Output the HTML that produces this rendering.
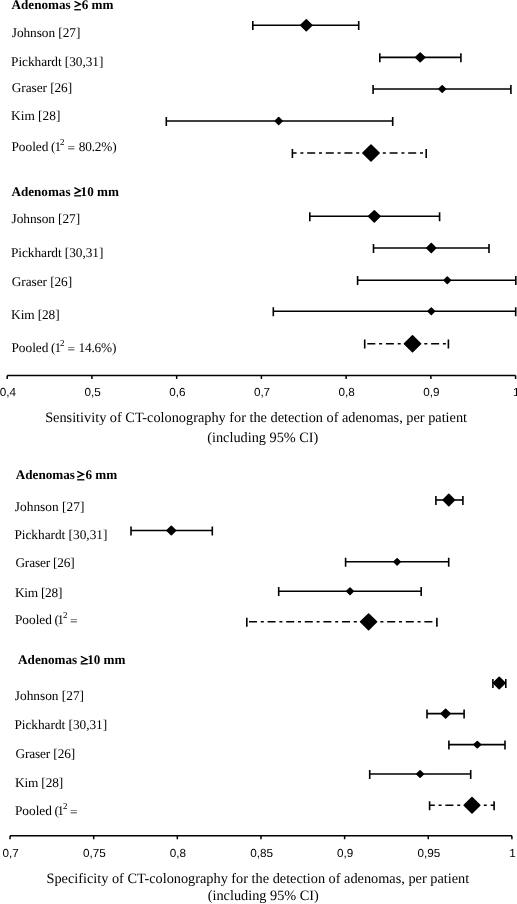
<!DOCTYPE html>
<html><head><meta charset="utf-8"><style>
html,body{margin:0;padding:0;background:#fff;width:517px;height:904px;overflow:hidden}
svg{display:block;will-change:transform;text-rendering:geometricPrecision}
text{fill:#000}
path{stroke:#000;fill:none}
path.d{fill:#000;stroke-width:1.5;stroke-linejoin:round}
</style></head><body>
<svg width="517" height="904" viewBox="0 0 517 904" font-family="'Liberation Serif', serif" font-size="13.33">
<text x="11.50" y="9" font-size="13.15" font-weight="bold">Adenomas</text>
<path d="M75.0 1.7L80.3 4.15L75.0 6.6" stroke-width="1.45" stroke-linejoin="miter" stroke-linecap="round"/>
<path d="M74.30 9.75H80.89999999999999" stroke-width="1.35"/>
<text x="81.70" y="9" font-size="13.15" font-weight="bold">6 mm</text>
<text x="11.75" y="37" textLength="68.68" lengthAdjust="spacing">Johnson [27]</text>
<text x="11.10" y="66" textLength="92.28" lengthAdjust="spacing">Pickhardt [30,31]</text>
<text x="11.75" y="92" textLength="60.41" lengthAdjust="spacing">Graser [26]</text>
<text x="11.10" y="120" textLength="49.23" lengthAdjust="spacing">Kim [28]</text>
<text x="11.40" y="151">Pooled</text>
<text x="51.00" y="151">(</text>
<text x="54.40" y="151">1</text>
<text x="60.10" y="144.8" font-size="9.0">2</text>
<text x="67.40" y="152">=</text>
<text x="78.70" y="151" textLength="38.0" lengthAdjust="spacing">80.2%)</text>
<text x="11.40" y="196" font-size="13.15" font-weight="bold">Adenomas</text>
<path d="M74.9 187.8L80.4 190.65L74.9 193.5" stroke-width="1.45" stroke-linejoin="miter" stroke-linecap="round"/>
<path d="M74.20 195.8H81.0" stroke-width="1.35"/>
<text x="80.60" y="196" font-size="13.15" font-weight="bold">10 mm</text>
<text x="11.60" y="223" textLength="68.53" lengthAdjust="spacing">Johnson [27]</text>
<text x="11.00" y="257" textLength="92.38" lengthAdjust="spacing">Pickhardt [30,31]</text>
<text x="11.75" y="286" textLength="60.41" lengthAdjust="spacing">Graser [26]</text>
<text x="11.10" y="319" textLength="48.53" lengthAdjust="spacing">Kim [28]</text>
<text x="11.40" y="352">Pooled</text>
<text x="51.00" y="352">(</text>
<text x="54.40" y="352">1</text>
<text x="60.10" y="345.8" font-size="9.0">2</text>
<text x="67.40" y="353">=</text>
<text x="78.40" y="352" textLength="38.0" lengthAdjust="spacing">14.6%)</text>
<path d="M252.8 25.2H358.7" stroke-width="1.6"/>
<path d="M252.8 21.10v9.0M358.7 21.10v9.0" stroke-width="1.6"/>
<path class="d" d="M300.70 25.20L306.30 19.71L311.90 25.20L306.30 30.69Z"/>
<path d="M379.8 57.4H460.9" stroke-width="1.6"/>
<path d="M379.8 53.30v9.0M460.9 53.30v9.0" stroke-width="1.6"/>
<path class="d" d="M415.70 57.40L420.20 52.99L424.70 57.40L420.20 61.81Z"/>
<path d="M373.1 89.0H510.9" stroke-width="1.6"/>
<path d="M373.1 84.90v9.0M510.9 84.90v9.0" stroke-width="1.6"/>
<path class="d" d="M438.90 89.00L442.20 85.77L445.50 89.00L442.20 92.23Z"/>
<path d="M166.3 121H392.7" stroke-width="1.6"/>
<path d="M166.3 116.90v9.0M392.7 116.90v9.0" stroke-width="1.6"/>
<path class="d" d="M275.25 121.00L278.70 117.62L282.15 121.00L278.70 124.38Z"/>
<path d="M371 153H292.4M371 153H426.2" stroke-width="1.6" stroke-dasharray="8 3.8 3 3.8"/>
<path d="M292.4 148.90v9.0M426.2 148.90v9.0" stroke-width="1.6"/>
<path class="d" d="M362.85 153.00L371.00 145.01L379.15 153.00L371.00 160.99Z"/>
<path d="M309.8 216.3H439.6" stroke-width="1.6"/>
<path d="M309.8 212.20v9.0M439.6 212.20v9.0" stroke-width="1.6"/>
<path class="d" d="M368.55 216.30L374.30 210.67L380.05 216.30L374.30 221.94Z"/>
<path d="M373.5 248H489" stroke-width="1.6"/>
<path d="M373.5 243.90v9.0M489 243.90v9.0" stroke-width="1.6"/>
<path class="d" d="M426.80 248.00L431.30 243.59L435.80 248.00L431.30 252.41Z"/>
<path d="M357.6 280.2H515.8" stroke-width="1.6"/>
<path d="M357.6 276.10v9.0M515.8 276.10v9.0" stroke-width="1.6"/>
<path class="d" d="M444.05 280.20L447.30 277.01L450.55 280.20L447.30 283.38Z"/>
<path d="M273.3 311.3H515.7" stroke-width="1.6"/>
<path d="M273.3 307.20v9.0M515.7 307.20v9.0" stroke-width="1.6"/>
<path class="d" d="M428.05 311.30L431.30 308.12L434.55 311.30L431.30 314.49Z"/>
<path d="M412.5 343.7H364.7M412.5 343.7H448.4" stroke-width="1.6" stroke-dasharray="8 3.8 3 3.8"/>
<path d="M364.7 339.60v9.0M448.4 339.60v9.0" stroke-width="1.6"/>
<path class="d" d="M404.40 343.70L412.50 335.76L420.60 343.70L412.50 351.64Z"/>
<path d="M7.2 375.4H515.6M7.20 375.4v3.6M91.93 375.4v3.6M176.67 375.4v3.6M261.40 375.4v3.6M346.13 375.4v3.6M430.87 375.4v3.6M515.60 375.4v3.6" stroke-width="1.5"/>
<text x="7.80" y="396" font-family="'Liberation Sans', sans-serif" font-size="11.7" text-anchor="middle">0,4</text>
<text x="92.53" y="396" font-family="'Liberation Sans', sans-serif" font-size="11.7" text-anchor="middle">0,5</text>
<text x="177.27" y="396" font-family="'Liberation Sans', sans-serif" font-size="11.7" text-anchor="middle">0,6</text>
<text x="262.00" y="396" font-family="'Liberation Sans', sans-serif" font-size="11.7" text-anchor="middle">0,7</text>
<text x="346.73" y="396" font-family="'Liberation Sans', sans-serif" font-size="11.7" text-anchor="middle">0,8</text>
<text x="431.47" y="396" font-family="'Liberation Sans', sans-serif" font-size="11.7" text-anchor="middle">0,9</text>
<text x="516.20" y="396" font-family="'Liberation Sans', sans-serif" font-size="11.7" text-anchor="middle">1</text>
<text x="256.10" y="422" font-size="14.3" text-anchor="middle">Sensitivity of CT-colonography for the detection of adenomas, per patient</text>
<text x="262.80" y="442" font-size="14.3" text-anchor="middle">(including 95% CI)</text>
<text x="15.80" y="479" font-size="13.15" font-weight="bold">Adenomas</text>
<path d="M77.8 471.6L83.4 474.30L77.8 477.0" stroke-width="1.45" stroke-linejoin="miter" stroke-linecap="round"/>
<path d="M77.10 479.8H84.4" stroke-width="1.35"/>
<text x="85.40" y="479" font-size="13.15" font-weight="bold">6 mm</text>
<text x="14.80" y="511" textLength="69.53" lengthAdjust="spacing">Johnson [27]</text>
<text x="14.40" y="539" textLength="92.98" lengthAdjust="spacing">Pickhardt [30,31]</text>
<text x="15.40" y="567" textLength="59.41" lengthAdjust="spacing">Graser [26]</text>
<text x="14.90" y="597" textLength="47.43" lengthAdjust="spacing">Kim [28]</text>
<text x="14.90" y="624">Pooled</text>
<text x="54.60" y="624">(</text>
<text x="57.35" y="624">1</text>
<text x="63.00" y="617.7" font-size="9.0">2</text>
<text x="70.00" y="625">=</text>
<text x="18.10" y="664" font-size="13.15" font-weight="bold">Adenomas</text>
<path d="M81.4 656.6L87.0 659.40L81.4 662.2" stroke-width="1.45" stroke-linejoin="miter" stroke-linecap="round"/>
<path d="M80.70 663.8H87.8" stroke-width="1.35"/>
<text x="87.20" y="664" font-size="13.15" font-weight="bold">10 mm</text>
<text x="14.80" y="700" textLength="69.23" lengthAdjust="spacing">Johnson [27]</text>
<text x="14.40" y="729" textLength="92.78" lengthAdjust="spacing">Pickhardt [30,31]</text>
<text x="15.40" y="758" textLength="59.76" lengthAdjust="spacing">Graser [26]</text>
<text x="14.90" y="787" textLength="48.23" lengthAdjust="spacing">Kim [28]</text>
<text x="14.90" y="815">Pooled</text>
<text x="54.60" y="815">(</text>
<text x="57.35" y="815">1</text>
<text x="63.00" y="808.6" font-size="9.0">2</text>
<text x="70.00" y="816">=</text>
<path d="M435.9 500H462.9" stroke-width="1.6"/>
<path d="M435.9 495.90v9.0M462.9 495.90v9.0" stroke-width="1.6"/>
<path class="d" d="M443.05 500.00L448.80 494.37L454.55 500.00L448.80 505.63Z"/>
<path d="M131 530.5H212.3" stroke-width="1.6"/>
<path d="M131 526.40v9.0M212.3 526.40v9.0" stroke-width="1.6"/>
<path class="d" d="M166.95 530.50L171.30 526.24L175.65 530.50L171.30 534.76Z"/>
<path d="M345.6 561.8H448.7" stroke-width="1.6"/>
<path d="M345.6 557.70v9.0M448.7 557.70v9.0" stroke-width="1.6"/>
<path class="d" d="M393.95 561.80L397.10 558.71L400.25 561.80L397.10 564.89Z"/>
<path d="M278.7 591.2H421.2" stroke-width="1.6"/>
<path d="M278.7 587.10v9.0M421.2 587.10v9.0" stroke-width="1.6"/>
<path class="d" d="M346.75 591.20L350.00 588.02L353.25 591.20L350.00 594.38Z"/>
<path d="M368.6 621.8H246.8M368.6 621.8H436.9" stroke-width="1.6" stroke-dasharray="8 3.8 3 3.8"/>
<path d="M246.8 617.70v9.0M436.9 617.70v9.0" stroke-width="1.6"/>
<path class="d" d="M360.60 621.80L368.60 613.96L376.60 621.80L368.60 629.64Z"/>
<path d="M492.9 683H505.8" stroke-width="1.6"/>
<path d="M492.9 678.90v9.0M505.8 678.90v9.0" stroke-width="1.6"/>
<path class="d" d="M493.35 683.00L499.20 677.27L505.05 683.00L499.20 688.73Z"/>
<path d="M427 713.6H464.1" stroke-width="1.6"/>
<path d="M427 709.50v9.0M464.1 709.50v9.0" stroke-width="1.6"/>
<path class="d" d="M441.25 713.60L445.60 709.34L449.95 713.60L445.60 717.86Z"/>
<path d="M448.9 744.6H505" stroke-width="1.6"/>
<path d="M448.9 740.50v9.0M505 740.50v9.0" stroke-width="1.6"/>
<path class="d" d="M474.05 744.60L477.30 741.42L480.55 744.60L477.30 747.78Z"/>
<path d="M369.7 774H470.7" stroke-width="1.6"/>
<path d="M369.7 769.90v9.0M470.7 769.90v9.0" stroke-width="1.6"/>
<path class="d" d="M416.70 774.00L420.10 770.67L423.50 774.00L420.10 777.33Z"/>
<path d="M472 805.3H429.6M472 805.3H494.1" stroke-width="1.6" stroke-dasharray="8 3.8 3 3.8"/>
<path d="M429.6 801.20v9.0M494.1 801.20v9.0" stroke-width="1.6"/>
<path class="d" d="M464.15 805.30L472.00 797.61L479.85 805.30L472.00 812.99Z"/>
<path d="M10.05 835.7H511.9M10.05 835.7v3.6M93.69 835.7v3.6M177.33 835.7v3.6M260.98 835.7v3.6M344.62 835.7v3.6M428.26 835.7v3.6M511.90 835.7v3.6" stroke-width="1.5"/>
<text x="10.65" y="857" font-family="'Liberation Sans', sans-serif" font-size="11.7" text-anchor="middle">0,7</text>
<text x="94.29" y="857" font-family="'Liberation Sans', sans-serif" font-size="11.7" text-anchor="middle">0,75</text>
<text x="177.93" y="857" font-family="'Liberation Sans', sans-serif" font-size="11.7" text-anchor="middle">0,8</text>
<text x="261.58" y="857" font-family="'Liberation Sans', sans-serif" font-size="11.7" text-anchor="middle">0,85</text>
<text x="345.22" y="857" font-family="'Liberation Sans', sans-serif" font-size="11.7" text-anchor="middle">0,9</text>
<text x="428.86" y="857" font-family="'Liberation Sans', sans-serif" font-size="11.7" text-anchor="middle">0,95</text>
<text x="512.50" y="857" font-family="'Liberation Sans', sans-serif" font-size="11.7" text-anchor="middle">1</text>
<text x="257.80" y="883" font-size="14.3" text-anchor="middle">Specificity of CT-colonography for the detection of adenomas, per patient</text>
<text x="263.30" y="900" font-size="14.3" text-anchor="middle">(including 95% CI)</text>
</svg>
</body></html>
